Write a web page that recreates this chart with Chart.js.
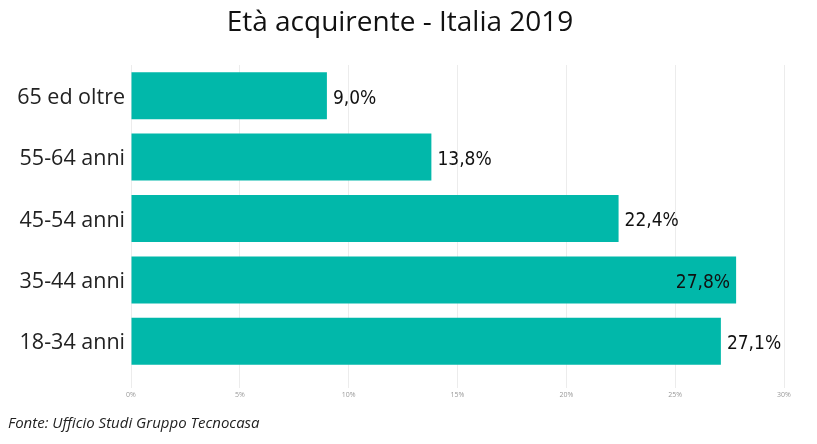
<!DOCTYPE html>
<html>
<head>
<meta charset="utf-8">
<script src="https://cdn.jsdelivr.net/npm/chart.js@4.4.1/dist/chart.umd.min.js"></script>
<style>
  html, body { margin:0; padding:0; background:#fff; }
  #wrap { position:relative; width:817px; height:444px; }
</style>
</head>
<body>
<div id="wrap"><canvas id="c" width="817" height="444"></canvas></div>
<script>
// data
const categories = ['65 ed oltre', '55-64 anni', '45-54 anni', '35-44 anni', '18-34 anni'];
const shares = [9.0, 13.8, 22.4, 27.8, 27.1];
const xTicks = [0, 5, 10, 15, 20, 25, 30];
const TITLE = 'Età acquirente - Italia 2019';
const SOURCE = 'Fonte: Ufficio Studi Gruppo Tecnocasa';

const TEAL = '#01B8AA';
const fmt = v => v.toFixed(1).replace('.', ',') + '%';

// title + footer + bar value labels
const decor = {
  id: 'decor',
  afterDatasetsDraw(chart){
    const ctx = chart.ctx, area = chart.chartArea;
    ctx.save();
    ctx.fillStyle = '#111';
    ctx.textBaseline = 'middle';
    ctx.textAlign = 'center';
    ctx.font = '28px "Open Sans", "Noto Sans", sans-serif';
    ctx.fillText(TITLE, 400, 23);

    ctx.textAlign = 'left';
    ctx.fillStyle = '#222';
    ctx.font = 'italic 15px "Open Sans", "Noto Sans", sans-serif';
    ctx.fillText(SOURCE, 8, 424);

    const meta = chart.getDatasetMeta(0);
    ctx.font = '19px "DejaVu Sans Condensed", "DejaVu Sans", sans-serif';
    ctx.fillStyle = '#111';
    meta.data.forEach((bar, i) => {
      const txt = fmt(shares[i]);
      const w = ctx.measureText(txt).width;
      if (bar.x + 6 + w > area.right) {
        ctx.textAlign = 'right';
        ctx.fillText(txt, bar.x - 6, bar.y + 3);
      } else {
        ctx.textAlign = 'left';
        ctx.fillText(txt, bar.x + 6, bar.y + 3);
      }
    });
    ctx.restore();
  }
};

new Chart(document.getElementById('c'), {
  type: 'bar',
  data: {
    labels: categories,
    datasets: [{
      data: shares,
      backgroundColor: TEAL,
      borderWidth: 0,
      barPercentage: 0.765,
      categoryPercentage: 1
    }]
  },
  options: {
    indexAxis: 'y',
    responsive: false,
    animation: false,
    layout: { padding: { left: 0, right: 33, top: 65, bottom: 42 } },
    plugins: { legend: { display: false }, tooltip: { enabled: false } },
    scales: {
      x: {
        min: 0, max: 30,
        afterBuildTicks: s => { s.ticks = xTicks.map(v => ({ value: v })); },
        afterFit: s => { s.height = 30; },
        grid: { color: '#ececec', lineWidth: 1, tickLength: 16, drawTicks: true },
        border: { display: false },
        ticks: {
          color: '#999',
          font: { size: 7, family: '"Open Sans", sans-serif' },
          padding: 3,
          callback: v => v + '%'
        }
      },
      y: {
        afterFit: s => { s.width = 131; },
        grid: { display: false, drawTicks: false, tickLength: 0 },
        border: { display: false },
        ticks: {
          color: '#222',
          padding: 6,
          labelOffset: 2,
          font: { size: 21.5, family: '"Open Sans", "Noto Sans", sans-serif' }
        }
      }
    }
  },
  plugins: [decor]
});
</script>
</body>
</html>
